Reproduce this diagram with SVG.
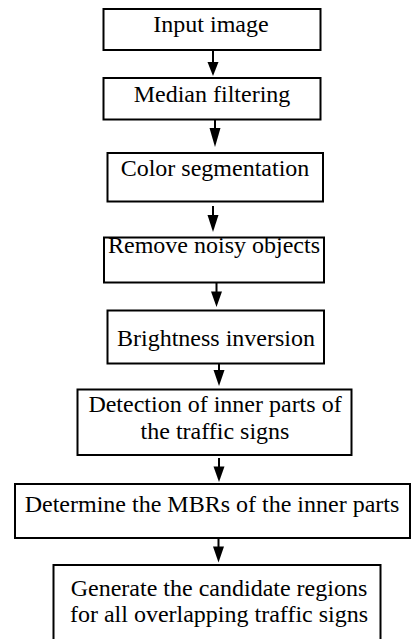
<svg xmlns="http://www.w3.org/2000/svg" width="411" height="639" viewBox="0 0 411 639">
<defs>
<style>
.box{fill:#fff;stroke:#000;stroke-width:2}
.t{font-family:"Liberation Serif","Times New Roman",serif;font-size:24px;fill:#000;text-anchor:middle}
.c{stroke:#000;stroke-width:2;fill:none}
.h{fill:#000;stroke:none}
</style>
</defs>
<rect width="411" height="639" fill="#fff"/>
<g id="n1"><rect class="box" x="103.5" y="9" width="217" height="41"/><text class="t" x="211" y="32">Input image</text></g>
<g id="n2"><rect class="box" x="103.5" y="78" width="217" height="41.5"/><text class="t" x="212" y="102">Median filtering</text></g>
<g id="n3"><rect class="box" x="107.5" y="153" width="215.5" height="48.5"/><text class="t" x="215" y="176">Color segmentation</text></g>
<g id="n4"><rect class="box" x="104" y="237.5" width="220" height="45"/><text class="t" x="214" y="253">Remove noisy objects</text></g>
<g id="n5"><rect class="box" x="107.5" y="310.5" width="216.5" height="53"/><text class="t" x="216" y="346">Brightness inversion</text></g>
<g id="n6"><rect class="box" x="77.5" y="389.5" width="274" height="65.5"/><text class="t" x="215" y="412">Detection of inner parts of</text><text class="t" x="215" y="438.5">the traffic signs</text></g>
<g id="n7"><rect class="box" x="15" y="484" width="395" height="54"/><text class="t" x="212" y="511.5">Determine the MBRs of the inner parts</text></g>
<g id="n8"><rect class="box" x="53.5" y="565" width="327" height="80"/><text class="t" x="219" y="595.5">Generate the candidate regions</text><text class="t" x="219" y="622">for all overlapping traffic signs</text></g>
<g id="connectors">
<line class="c" x1="213" y1="50" x2="213" y2="64"/><polygon class="h" points="207.5,62 218.5,62 213,76"/>
<line class="c" x1="215" y1="119.5" x2="215" y2="130"/><polygon class="h" points="209.5,128 220.5,128 215,147"/>
<line class="c" x1="213" y1="206" x2="213" y2="217"/><polygon class="h" points="207.5,215 218.5,215 213,232"/>
<line class="c" x1="216.5" y1="282.5" x2="216.5" y2="293"/><polygon class="h" points="211,291.5 222,291.5 216.5,307"/>
<line class="c" x1="219" y1="363.5" x2="219" y2="372"/><polygon class="h" points="213.5,370 224.5,370 219,386"/>
<line class="c" x1="219" y1="458" x2="219" y2="468"/><polygon class="h" points="213.5,466.5 224.5,466.5 219,482"/>
<line class="c" x1="218.5" y1="538" x2="218.5" y2="548"/><polygon class="h" points="213,546.5 224,546.5 218.5,562.5"/>
</g>
</svg>
